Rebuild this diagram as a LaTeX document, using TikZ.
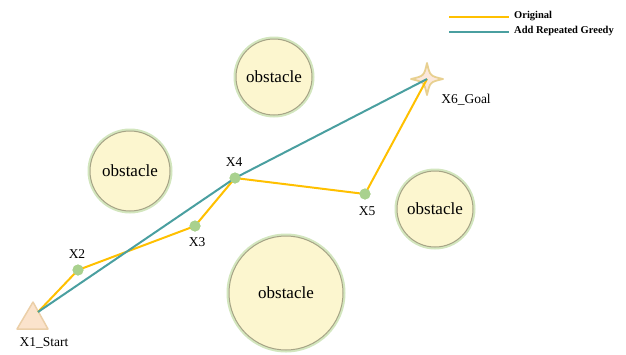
\documentclass[tikz,border=0pt]{standalone}
\usepackage{fontspec}
\setmainfont{Liberation Serif}
\definecolor{obfill}{HTML}{FCF6CF}
\definecolor{obedge}{HTML}{A6A486}
\definecolor{obglow}{HTML}{D3E6BE}
\definecolor{orig}{HTML}{FFC000}
\definecolor{greedy}{HTML}{4A9FA0}
\definecolor{dotc}{HTML}{A9D18E}
\definecolor{startfill}{HTML}{FBE3CC}
\definecolor{startedge}{HTML}{EBCFA8}
\definecolor{goalfill}{HTML}{FCE8DC}
\definecolor{goaledge}{HTML}{E8D090}
\begin{document}
\begin{tikzpicture}[x=1pt,y=-1pt,
  obst/.style={circle,fill=obfill,draw=obedge,line width=1pt,inner sep=0pt,
    font=\fontsize{17}{18}\selectfont},
  wp/.style={circle,fill=dotc,inner sep=0pt,minimum size=11pt},
  lbl/.style={font=\fontsize{13.5}{14}\selectfont},
  origline/.style={orig,line width=2pt},
  greedline/.style={greedy,line width=2pt},
  legtext/.style={font=\bfseries\fontsize{10.5}{11}\selectfont,anchor=west,inner sep=0pt}]
\useasboundingbox (0,0) rectangle (626,354);
% obstacles
\foreach \n/\x/\y/\r in {o1/274/77/38, o2/130/171/40, o3/286/293/57, o4/435/209/38}{
  \fill[obglow] (\x,\y) circle (\r+2.5);
  \node[obst,minimum size=2*\r pt] (\n) at (\x,\y) {obstacle};
}
% start and goal
\coordinate (s) at (38,312);
\coordinate (g) at (427,79);
\draw[startedge,fill=startfill,line width=1.5pt,line join=round] (33,302) -- (48,329) -- (17,329) -- cycle;
\draw[goaledge,fill=goalfill,line width=1.8pt,line join=round]
  (427,63) .. controls (430,76) .. (443,79) .. controls (430,82) .. (427,95)
  .. controls (424,82) .. (411,79) .. controls (424,76) .. cycle;
% waypoints
\node[wp] (x2) at (78,270) {};
\node[wp] (x3) at (195,226) {};
\node[wp] (x4) at (235,178) {};
\node[wp] (x5) at (365,194) {};
% paths
\draw[origline,line join=round] (s) -- (x2.center) -- (x3.center) -- (x4.center) -- (x5.center) -- (g);
\draw[greedline,line join=round] (s) -- (x4.center) -- (g);
\foreach \n in {x2,x3,x4,x5}{\node[wp] at (\n) {};}
% labels
\node[lbl] (l1) at (44,343) {X1\_Start};
\node[lbl] (l2) at (77,254) {X2};
\node[lbl] (l3) at (197,242) {X3};
\node[lbl] (l4) at (234,162) {X4};
\node[lbl] (l5) at (367,211) {X5};
\node[lbl] (l6) at (466,100) {X6\_Goal};
% legend
\coordinate (a1) at (449,17);
\coordinate (a2) at (509,17);
\coordinate (b1) at (449,32);
\coordinate (b2) at (509,32);
\draw[origline] (a1) -- (a2);
\draw[greedline] (b1) -- (b2);
\node[legtext] (t1) at (514,16) {Original};
\node[legtext] (t2) at (514,31) {Add Repeated Greedy};
\end{tikzpicture}
\end{document}
